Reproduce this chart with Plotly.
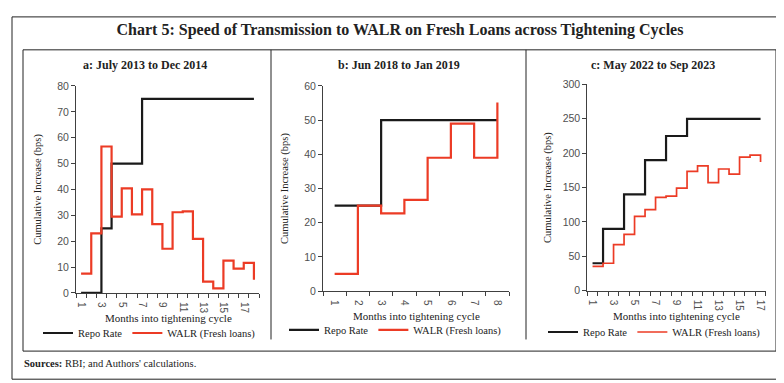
import plotly.graph_objects as go

# ---------------- data ----------------
months_a = list(range(1, 19))
repo_a = [0, 0, 25, 50, 50, 50, 75, 75, 75, 75, 75, 75, 75, 75, 75, 75, 75, 75]
walr_a = [7.5, 23, 56.6, 29.5, 40.4, 30.4, 40, 26.6, 17.1, 31.2, 31.5, 20.9, 4.4, 1.8, 12.5, 9.4, 11.6, 5.1]

months_b = list(range(1, 9))
repo_b = [25, 25, 50, 50, 50, 50, 50, 50]
walr_b = [5, 25, 22.7, 26.7, 39, 49, 39, 55.2]

months_c = list(range(1, 18))
repo_c = [40, 90, 90, 140, 140, 190, 190, 225, 225, 250, 250, 250, 250, 250, 250, 250, 250]
walr_c = [35.5, 40, 67, 82, 108, 118, 135.7, 137.6, 149.3, 173.7, 181.7, 157.3, 177, 169.5, 194.4, 197.2, 187.3]

panel_titles = ["a: July 2013 to Dec 2014", "b: Jun 2018 to Jan 2019", "c: May 2022 to Sep 2023"]
x_ticks_a = [1, 3, 5, 7, 9, 11, 13, 15, 17]
x_ticks_b = [1, 2, 3, 4, 5, 6, 7, 8]
x_ticks_c = [1, 3, 5, 7, 9, 11, 13, 15, 17]

W, H = 784, 383
BLACK = "#1a1a1a"
RED = "#EC3B25"
SERIF = "Liberation Serif"
SANS = "Liberation Sans"
TICKC = "#505050"


def X(px):
    return px / W


def Y(px):
    return 1 - px / H


fig = go.Figure()

panels = [
    dict(m=months_a, r=repo_a, w=walr_a, xa="x", ya="y", lg="legend", rw=2.2,
         xdom=[X(68), X(251)], ydom=[Y(288), Y(74.3)], yr=[0, 80], dt=10,
         ticks=x_ticks_a, xr=[0.5, 18.5], ystand=13, xt=(160, 314)),
    dict(m=months_b, r=repo_b, w=walr_b, xa="x2", ya="y2", lg="legend2", rw=2.2,
         xdom=[X(315), X(501)], ydom=[Y(286), Y(74.3)], yr=[0, 60], dt=10,
         ticks=x_ticks_b, xr=[0.5, 8.5], ystand=13, xt=(408, 311.7)),
    dict(m=months_c, r=repo_c, w=walr_c, xa="x3", ya="y3", lg="legend3", rw=1.7,
         xdom=[X(579.3), X(757.8)], ydom=[Y(285.7), Y(72.7)], yr=[0, 300], dt=50,
         ticks=x_ticks_c, xr=[0.5, 17.5], ystand=8, xt=(668.5, 311.7)),
]

annos = []
for i, p in enumerate(panels):
    fig.add_trace(go.Scatter(x=p["m"], y=p["r"], mode="lines", name="Repo Rate",
                             line=dict(color=BLACK, width=2.2, shape="hv"),
                             xaxis=p["xa"], yaxis=p["ya"], legend=p["lg"]))
    fig.add_trace(go.Scatter(x=p["m"], y=p["w"], mode="lines", name="WALR (Fresh loans)",
                             line=dict(color=RED, width=p["rw"], shape="hv"),
                             xaxis=p["xa"], yaxis=p["ya"], legend=p["lg"]))
    sfx = "" if i == 0 else str(i + 1)
    n = int(p["xr"][1] - 0.5)
    fig.layout["xaxis" + sfx] = dict(
        domain=p["xdom"], anchor="y" + sfx, range=p["xr"],
        tickmode="array", tickvals=p["ticks"], ticktext=[str(t) for t in p["ticks"]],
        ticks="", tickangle=90, ticklabelstandoff=6,
        minor=dict(tickmode="array", tickvals=[k + 0.5 for k in range(0, n + 1)],
                   ticks="outside", ticklen=4, tickcolor="#404040", tickwidth=1),
        showline=True, linecolor="#404040", linewidth=1,
        showgrid=False, zeroline=False,
        tickfont=dict(family=SANS, size=10, color=TICKC),
        fixedrange=True,
    )
    fig.layout["yaxis" + sfx] = dict(
        domain=p["ydom"], anchor="x" + sfx, range=p["yr"], dtick=p["dt"],
        ticks="outside", ticklen=4, tickcolor="#404040",
        showline=True, linecolor="#404040", linewidth=1,
        showgrid=False, zeroline=False,
        tickfont=dict(family=SANS, size=10.5, color=TICKC),
        title=dict(text="Cumulative Increase (bps)", standoff=p["ystand"],
                   font=dict(family=SERIF, size=10.5, color="#222")),
        fixedrange=True,
    )
    annos.append(dict(text="Months into tightening cycle", x=X(p["xt"][0]), y=Y(p["xt"][1]),
                      xref="paper", yref="paper", xanchor="center", yanchor="middle",
                      showarrow=False, font=dict(family=SERIF, size=11, color="#222")))

leg_common = dict(orientation="h", xanchor="left", yanchor="middle",
                  bgcolor="rgba(0,0,0,0)", font=dict(family=SERIF, size=10.5, color="#222"),
                  itemwidth=30, tracegroupgap=0)
fig.update_layout(
    legend=dict(x=X(30), y=Y(329.3), **leg_common),
    legend2=dict(x=X(276), y=Y(326), **leg_common),
    legend3=dict(x=X(535), y=Y(328.3), **leg_common),
)

# frames
shapes = [
    dict(type="rect", x0=X(4), x1=X(779), y0=Y(3), y1=Y(377)),
    dict(type="rect", x0=X(15), x1=X(768), y0=Y(37), y1=Y(348)),
    dict(type="line", x0=X(263), x1=X(263), y0=Y(37), y1=Y(336)),
    dict(type="line", x0=X(518), x1=X(518), y0=Y(37), y1=Y(336)),
]
for s in shapes:
    s.update(xref="paper", yref="paper", line=dict(color="#222", width=1))
fig.update_layout(shapes=shapes)

for txt, cx in zip(panel_titles, [137, 391, 645]):
    annos.append(dict(text="<b>" + txt + "</b>", x=X(cx), y=Y(53), xref="paper", yref="paper",
                      xanchor="center", yanchor="middle", showarrow=False,
                      font=dict(family=SERIF, size=12, color="#222")))
annos.append(dict(text="<b>Sources:</b> RBI; and Authors' calculations.", x=X(14), y=Y(361),
                  xref="paper", yref="paper", xanchor="left", yanchor="middle",
                  showarrow=False, font=dict(family=SERIF, size=10.5, color="#222")))
fig.update_layout(annotations=annos)

fig.update_layout(
    width=W, height=H, margin=dict(l=0, r=0, t=0, b=0),
    paper_bgcolor="white", plot_bgcolor="white",
    title=dict(text="<b>Chart 5: Speed of Transmission to WALR on Fresh Loans across Tightening Cycles</b>",
               x=0.5, xanchor="center", y=Y(21), yanchor="middle",
               font=dict(family=SERIF, size=16, color="#222")),
    showlegend=True,
)

fig.write_html("out.html")
